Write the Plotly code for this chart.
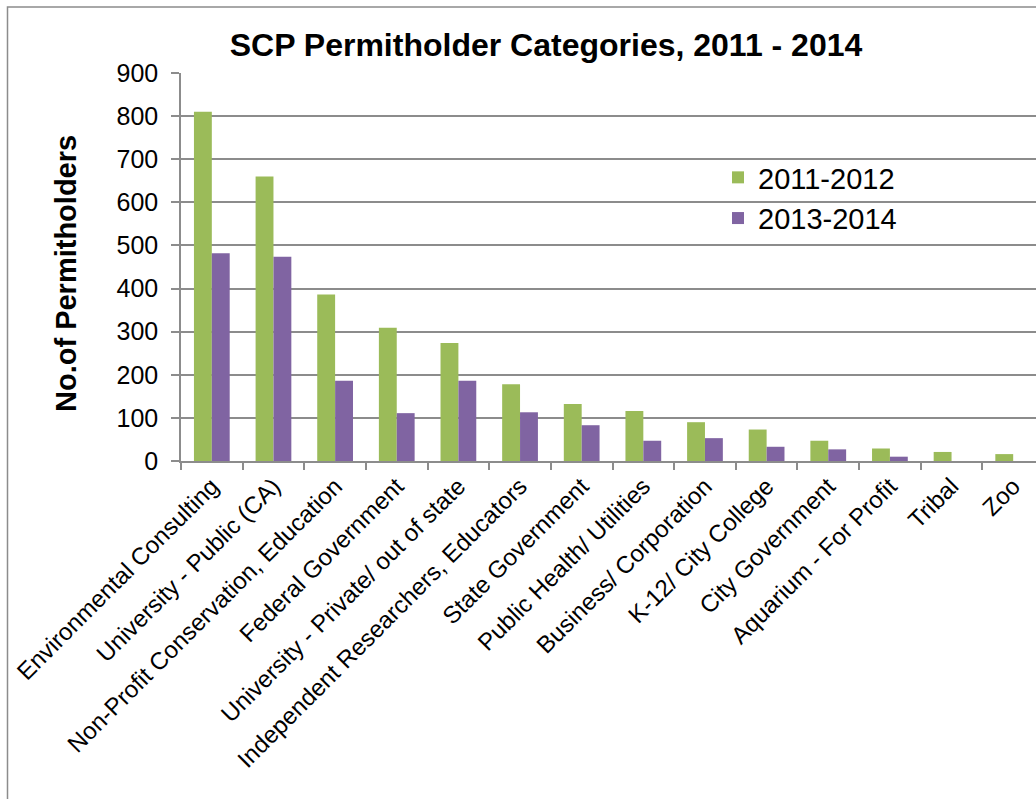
import plotly.graph_objects as go

categories = [
    "Environmental Consulting",
    "University - Public (CA)",
    "Non-Profit Conservation, Education",
    "Federal Government",
    "University - Private/ out of state",
    "Independent Researchers, Educators",
    "State Government",
    "Public Health/ Utilities",
    "Business/ Corporation",
    "K-12/ City College",
    "City Government",
    "Aquarium - For Profit",
    "Tribal",
    "Zoo",
]
values_2011_2012 = [810, 660, 386, 309, 274, 178, 132, 116, 90, 73, 47, 29, 21, 16]
values_2013_2014 = [482, 474, 186, 111, 186, 113, 83, 47, 53, 33, 27, 10, 0, 0]
y_ticks = [0, 100, 200, 300, 400, 500, 600, 700, 800, 900]

GREEN = "#9BBB59"
PURPLE = "#8064A2"
GRID = "#8c8c8c"
FONT = "Liberation Sans, Arial, sans-serif"

W, H = 1036, 799
ML, MR, MT, MB = 181, 0, 73, 338

fig = go.Figure()
fig.add_trace(go.Bar(x=categories, y=values_2011_2012, name="2011-2012",
                     marker=dict(color=GREEN, line=dict(width=0))))
fig.add_trace(go.Bar(x=categories, y=values_2013_2014, name="2013-2014",
                     marker=dict(color=PURPLE, line=dict(width=0))))

pw = W - ML - MR
ph = H - MT - MB
def px(x):
    return (x - ML) / pw
def py(y):
    return (H - MB - y) / ph

fig.update_layout(
    width=W, height=H,
    margin=dict(l=ML, r=MR, t=MT, b=MB, autoexpand=False),
    paper_bgcolor="white", plot_bgcolor="white",
    barmode="group", bargap=0.42, bargroupgap=0,
    font=dict(family=FONT, color="black"),
    title=dict(text="<b>SCP Permitholder Categories, 2011 - 2014</b>",
               x=546 / W, xanchor="center", y=1 - 45 / H, yanchor="middle",
               xref="container", yref="container",
               font=dict(size=32, family=FONT, color="black")),
    legend=dict(x=px(718), y=py(152), xanchor="left", yanchor="top",
                font=dict(size=29, family=FONT), bgcolor="rgba(0,0,0,0)",
                itemwidth=30, tracegroupgap=0),
    xaxis=dict(
        type="category", range=[-0.5, 13.37],
        showgrid=False, showline=True, linecolor=GRID, linewidth=1.5,
        ticks="outside", tickson="boundaries", ticklen=7, tickcolor=GRID, tickwidth=1.5,
        tickangle=-45, tickfont=dict(size=24, family=FONT, color="black"),
    ),
    yaxis=dict(
        range=[0, 900], tickvals=y_ticks,
        showgrid=True, gridcolor=GRID, gridwidth=1.5,
        showline=True, linecolor=GRID, linewidth=1.5,
        ticks="outside", ticklen=8, tickcolor=GRID, tickwidth=1.5,
        tickfont=dict(size=25, family=FONT, color="black"),
        ticklabelstandoff=8,
        zeroline=False,
    ),
)

fig.add_annotation(text="<b>No.of Permitholders</b>", xref="paper", yref="paper",
                   x=px(66), y=py(274), xanchor="center", yanchor="middle",
                   textangle=-90, showarrow=False,
                   font=dict(size=29, family=FONT, color="black"))

# outer chart frame
fig.add_shape(type="rect", xref="paper", yref="paper",
              x0=px(7.5), x1=px(W + 20), y0=py(H + 20), y1=py(7),
              line=dict(color="#8c8c8c", width=1.5), fillcolor="rgba(0,0,0,0)", layer="above")

fig.write_html("out.html", config={"displayModeBar": False},
               post_script="document.body.style.margin='0';document.body.style.overflow='hidden';")
